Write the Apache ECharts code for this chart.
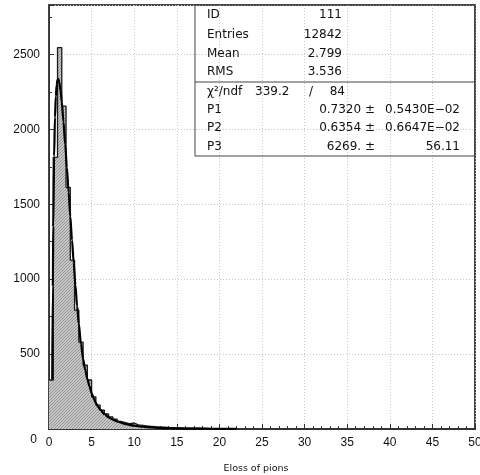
<!DOCTYPE html>
<html><head><meta charset="utf-8">
<script src="https://cdn.jsdelivr.net/npm/echarts@6/dist/echarts.min.js"></script>
<style>html,body{margin:0;padding:0;background:#fff}#c{width:480px;height:475px}</style>
</head><body><div id="c"></div>
<script>
// ---- data ----
const binWidth = 0.5;
const counts = [327, 1813, 2545, 2155, 1613, 1127, 793, 580, 427, 327,
  215, 160, 125, 100, 80, 65, 50, 42, 35, 40,
  28, 24, 20, 18, 15, 13, 12, 10, 9, 8,
  7, 6, 6, 5, 5, 4, 4, 3, 3, 3,
  3, 2, 2, 2];
const curveX = [0.38, 0.45, 0.5, 0.6, 0.7, 0.8, 0.9, 1.0, 1.1, 1.2, 1.35, 1.5, 1.7, 1.9, 2.1, 2.3, 2.5, 2.7, 2.9, 3.1,
  3.3, 3.5, 3.75, 4.0, 4.25, 4.5, 4.75, 5.0, 5.25, 5.5, 5.75, 6.0, 6.5, 7.0, 7.5, 8.0, 9.0, 10, 11, 12, 13, 14, 16, 18, 20, 22];
const curveY = [330, 950, 1350, 1820, 2080, 2220, 2295, 2330, 2335, 2315, 2260, 2185, 2050, 1900, 1745, 1580, 1420, 1260, 1110, 960,
  820, 700, 570, 470, 395, 335, 285, 240, 205, 175, 150, 130, 100, 78, 62, 50, 33, 22, 15, 10, 7, 5, 3, 2, 1.2, 1];
const xMin = 0, xMax = 50, xStep = 5;
const yMin = 0, yMax = 2830, yStep = 500;
const statLabels = ['ID', 'Entries', 'Mean', 'RMS'];
const statValues = ['111', '12842', '2.799', '3.536'];
const chi2Label = 'χ²/ndf', chi2Value = '339.2', ndfValue = '84';
const fitLabels = ['P1', 'P2', 'P3'];
const fitValues = ['0.7320 ±', '0.6354 ±', '6269. ±'];
const fitErrors = ['0.5430E−02', '0.6647E−02', '56.11'];
const xTitle = 'Eloss of pions';

// ---- hatch pattern ----
const pc = document.createElement('canvas');
pc.width = 3; pc.height = 3;
const g = pc.getContext('2d');
g.fillStyle = '#c8c8c8'; g.fillRect(0, 0, 3, 3);
g.fillStyle = '#939393';
g.fillRect(2, 0, 1, 1); g.fillRect(1, 1, 1, 1); g.fillRect(0, 2, 1, 1);

const histData = counts.map((c, i) => [i * binWidth, c]);
histData.push([counts.length * binWidth, 0]);
const curveData = curveX.map((x, i) => [x, curveY[i]]);

const chart = echarts.init(document.getElementById('c'), null, {renderer: 'canvas'});
const FONT = 'DejaVu Sans';
const AFONT = 'Liberation Sans';
const txt = (x, y, s, align) => ({type: 'text', x: x, y: y, z: 10,
  style: {text: s, fontFamily: FONT, fontSize: 12, fill: '#111', align: align || 'left', verticalAlign: 'middle'}});
const rowsY = [15, 35, 54, 72, 92, 110, 128, 147];
const graphics = [
  {type: 'rect', shape: {x: 195, y: 5, width: 280, height: 151}, style: {fill: 'none', stroke: '#444', lineWidth: 1}, z: 10},
  {type: 'line', shape: {x1: 195, y1: 82, x2: 475, y2: 82}, style: {stroke: '#444', lineWidth: 1}, z: 10},
  {type: 'text', x: 256, y: 469, style: {text: xTitle, fontFamily: FONT, fontSize: 9.5, fill: '#111', align: 'center', verticalAlign: 'middle'}}
];
statLabels.forEach((l, i) => { graphics.push(txt(207, rowsY[i], l)); graphics.push(txt(342, rowsY[i], statValues[i], 'right')); });
graphics.push(txt(207, rowsY[4], chi2Label));
graphics.push(txt(255, rowsY[4], chi2Value));
graphics.push(txt(309, rowsY[4], '/'));
graphics.push(txt(345, rowsY[4], ndfValue, 'right'));
fitLabels.forEach((l, i) => {
  graphics.push(txt(207, rowsY[5 + i], l));
  graphics.push(txt(375, rowsY[5 + i], fitValues[i], 'right'));
  graphics.push(txt(460, rowsY[5 + i], fitErrors[i], 'right'));
});

chart.setOption({
  animation: false,
  backgroundColor: '#fff',
  grid: {left: 49, right: 5, top: 5, bottom: 46, show: true, borderColor: '#444', borderWidth: 2,
    backgroundColor: 'transparent', containLabel: false, outerBoundsMode: 'none'},
  xAxis: {
    type: 'value', min: xMin, max: xMax, interval: xStep,
    axisLine: {show: true, lineStyle: {color: '#333', width: 2}},
    axisTick: {show: true, inside: true, length: 5, lineStyle: {color: '#333'}},
    minorTick: {show: true, splitNumber: 5, length: 3, lineStyle: {color: '#333'}},
    splitLine: {show: true, lineStyle: {color: '#c8c8c8', type: [1, 2]}},
    axisLabel: {margin: 8, fontSize: 12, fontFamily: AFONT, color: '#111'}
  },
  yAxis: {
    type: 'value', min: yMin, max: yMax, interval: yStep,
    axisLine: {show: true, lineStyle: {color: '#333', width: 1}},
    axisTick: {show: true, inside: true, length: 5, lineStyle: {color: '#333'}},
    minorTick: {show: true, splitNumber: 2, length: 3, lineStyle: {color: '#333'}},
    splitLine: {show: true, lineStyle: {color: '#c8c8c8', type: [1, 2]}},
    axisLabel: {margin: 9, fontSize: 12, fontFamily: AFONT, color: '#111', showMaxLabel: false,
      formatter: v => (v === 0 ? '{z|0}' : (v % yStep === 0 ? String(v) : '')),
      rich: {z: {fontSize: 12, fontFamily: AFONT, color: '#111', padding: [22, 3, 0, 0]}}}
  },
  series: [
    {type: 'line', step: 'end', data: histData, showSymbol: false, z: 2,
      lineStyle: {color: '#1a1a1a', width: 1.3},
      areaStyle: {color: {image: pc, repeat: 'repeat'}, opacity: 1}},
    {type: 'line', data: curveData, showSymbol: false, smooth: 0.3, smoothMonotone: 'x', z: 3,
      lineStyle: {color: '#000', width: 2.2}}
  ],
  graphic: graphics
});
</script></body></html>
